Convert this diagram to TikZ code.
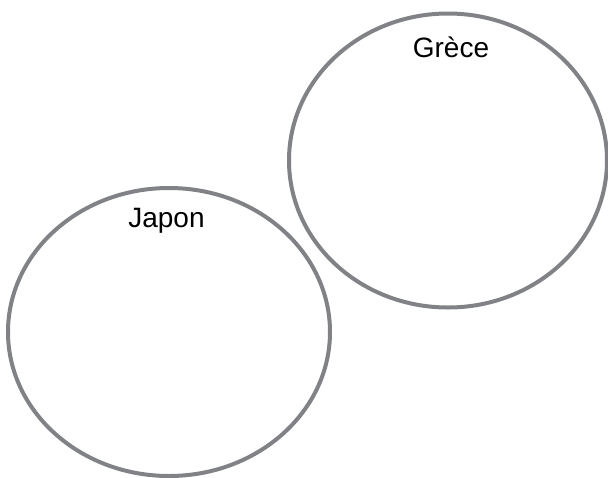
\documentclass[tikz,border=0pt]{standalone}
\usepackage{fontspec}
\setmainfont{Liberation Sans}
\usetikzlibrary{shapes.geometric}
\definecolor{ringgray}{RGB}{128,130,133}
\begin{document}
\begin{tikzpicture}[x=1pt,y=-1pt,
  ring/.style={draw=ringgray,line width=4pt},
  lab/.style={anchor=base,inner sep=0pt,font=\fontsize{28}{32}\selectfont}]
\useasboundingbox (0,0) rectangle (608,477);
\clip (0,0) rectangle (608,477);
\node[ring,ellipse,minimum width=318pt,minimum height=294pt,inner sep=0pt] (grece) at (448,160.5) {};
\node[ring,ellipse,minimum width=322pt,minimum height=288pt,inner sep=0pt] (japon) at (169,332) {};
\node[lab] (tg) at (451,57) {Grèce};
\node[lab] (tj) at (166.5,227) {Japon};
\end{tikzpicture}
\end{document}
